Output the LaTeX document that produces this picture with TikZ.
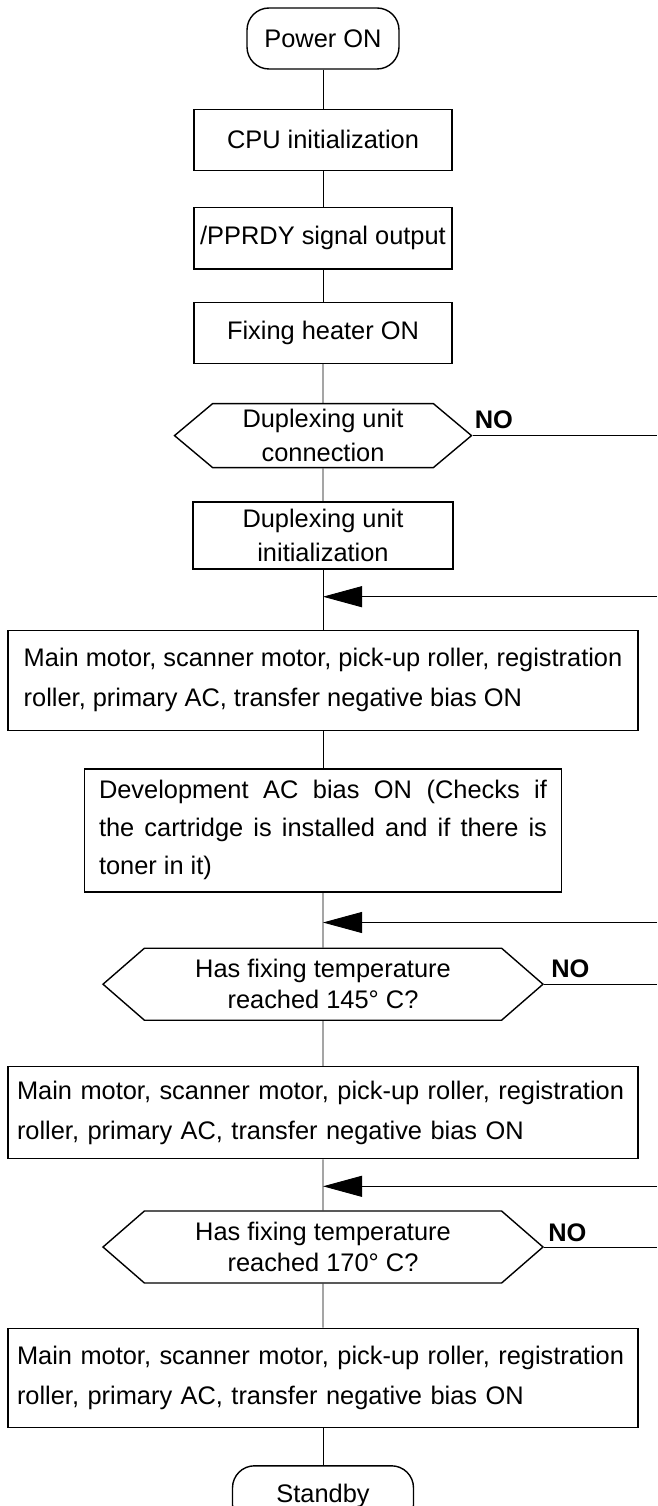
\documentclass[tikz,border=0pt]{standalone}
\usepackage{fontspec}
\setmainfont{Liberation Sans}
\usetikzlibrary{shapes,arrows.meta,positioning}

\begin{document}
\begin{tikzpicture}[x=1pt, y=-1pt, node distance=39pt,
    font=\fontsize{25.4}{34}\selectfont,
    term/.style={rectangle, draw, line width=1.4pt, rounded corners=22pt, minimum width=152pt, minimum height=61pt, inner sep=0pt},
    stepbox/.style={rectangle, draw, line width=1.4pt, minimum width=258pt, minimum height=61pt, inner sep=0pt, align=center},
    widebox/.style={rectangle, draw, line width=1.4pt, minimum width=630pt, inner xsep=14pt, inner ysep=0pt, align=left, font=\fontsize{25.4}{40}\selectfont},
    decision/.style={signal, signal to=west and east, signal pointer angle=82, draw, line width=1.4pt, minimum width=440pt, minimum height=72pt, inner sep=0pt, align=center, font=\fontsize{25.4}{31}\selectfont},
    nolabel/.style={font=\fontsize{25.4}{30}\selectfont\bfseries, inner sep=0pt, anchor=base west},
    flow/.style={line width=0.9pt},
    back/.style={line width=0.9pt, -{Triangle[length=39pt, width=21pt]}}]

    \useasboundingbox (0,0) rectangle (657,1506);
    \coordinate (edge) at (657,0);

    % Start-up steps
    \node[term] (power) at (323,38.5) {Power ON};
    \node[stepbox, below=39pt of power] (cpu) {CPU initialization};
    \node[stepbox, below=36pt of cpu] (pprdy) {/PPRDY signal output};
    \node[stepbox, below=32pt of pprdy] (heater) {Fixing heater ON};

    % Duplexing unit
    \node[decision, below=39pt of heater, minimum width=297pt, minimum height=64pt, signal pointer angle=80, font=\fontsize{25.4}{34}\selectfont] (dupconn) {Duplexing unit\\connection};
    \node[stepbox, below=33pt of dupconn, minimum width=260pt, minimum height=67pt] (dupinit) {Duplexing unit\\initialization};
    \coordinate[below=27pt of dupinit] (j1);

    % Motors and bias
    \node[widebox, below=60pt of dupinit, minimum height=100pt] (main1) {Main motor, scanner motor, pick-up roller, registration\\roller, primary AC, transfer negative bias ON};
    \node[widebox, below=37pt of main1, minimum width=0pt, text width=448pt, inner xsep=14.5pt, minimum height=123pt, align=justify, font=\fontsize{25.4}{38}\selectfont] (devbias) {Development AC bias ON (Checks if\break the cartridge is installed and if there is\break toner in it)};
    \coordinate[below=30pt of devbias] (j2);

    % Fixing temperature checks
    \node[decision, below=55pt of devbias] (temp145) {Has fixing temperature\\reached 145° C?};
    \node[widebox, below=45pt of temp145, minimum width=0pt, text width=612pt, inner xsep=9pt, minimum height=92pt] (main2) {Main motor, scanner motor, pick-up roller, registration\\roller, primary AC, transfer negative bias ON};
    \coordinate[below=27pt of main2] (j3);
    \node[decision, below=51pt of main2] (temp170) {Has fixing temperature\\reached 170° C?};
    \node[widebox, below=44pt of temp170, minimum width=0pt, text width=612pt, inner xsep=9pt, minimum height=99pt] (main3) {Main motor, scanner motor, pick-up roller, registration\\roller, primary AC, transfer negative bias ON};
    \node[term, below=37pt of main3, minimum width=181pt] (standby) {Standby};

    % NO labels
    \node[nolabel] (no1) at ([xshift=2pt, yshift=7pt]dupconn.east) {NO};
    \node[nolabel] (no2) at ([xshift=7pt, yshift=7pt]temp145.east) {NO};
    \node[nolabel] (no3) at ([xshift=4pt, yshift=6pt]temp170.east) {NO};

    % Main line
    \draw[flow] (power) -- (cpu);
    \draw[flow] (cpu) -- (pprdy);
    \draw[flow] (pprdy) -- (heater);
    \draw[flow] (heater) -- (dupconn);
    \draw[flow] (dupconn) -- (dupinit);
    \draw[flow] (dupinit) -- (main1);
    \draw[flow] (main1) -- (devbias);
    \draw[flow] (devbias) -- (temp145);
    \draw[flow] (temp145) -- (main2);
    \draw[flow] (main2) -- (temp170);
    \draw[flow] (temp170) -- (main3);
    \draw[flow] (main3) -- (standby);

    % NO branches and returns
    \draw[flow] (dupconn.east) -- (dupconn.east -| edge);
    \draw[flow] (temp145.east) -- (temp145.east -| edge);
    \draw[flow] (temp170.east) -- (temp170.east -| edge);
    \draw[back] (j1 -| edge) -- (j1);
    \draw[back] (j2 -| edge) -- (j2);
    \draw[back] (j3 -| edge) -- (j3);

\end{tikzpicture}
\end{document}
